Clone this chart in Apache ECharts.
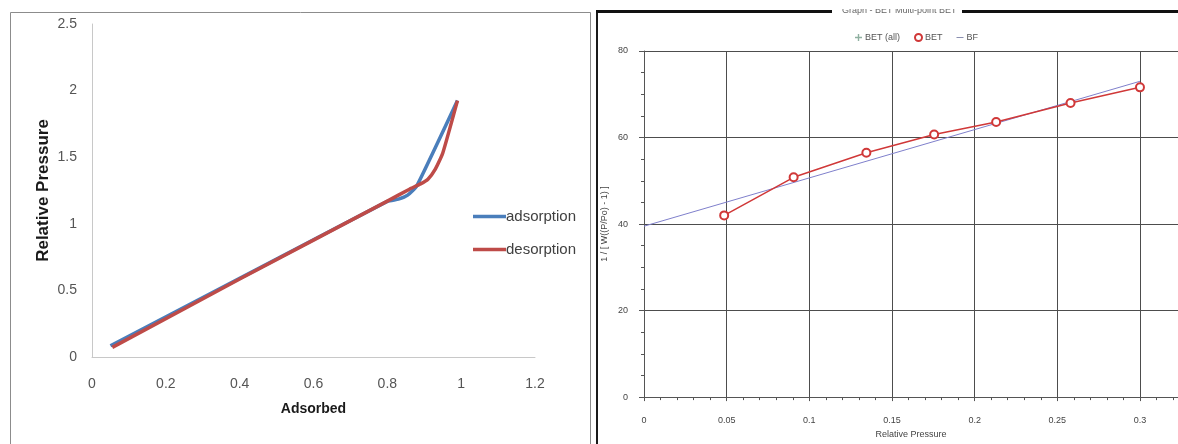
<!DOCTYPE html>
<html>
<head>
<meta charset="utf-8">
<script src="https://cdn.jsdelivr.net/npm/echarts@6/dist/echarts.min.js"></script>
<style>
  html, body { margin: 0; padding: 0; background: #ffffff; }
  #chart { width: 1178px; height: 444px; }
</style>
</head>
<body>
<div id="chart"></div>
<script>
// Isotherm panel: adsorbed amount vs relative pressure
const adsorption = [[0.05, 0.085], [0.4, 0.59], [0.8, 1.168], [0.83, 1.185], [0.855, 1.215], [0.88, 1.285], [0.99, 1.925]];
const desorption = [[0.055, 0.072], [0.4, 0.585], [0.8, 1.17], [0.86, 1.26], [0.89, 1.3], [0.91, 1.335], [0.93, 1.41], [0.95, 1.53], [0.99, 1.925]];

// BET multi-point panel
const betP = [0.0485, 0.0905, 0.1345, 0.1755, 0.213, 0.258, 0.300];
const betY = [42.0, 50.8, 56.5, 60.7, 63.6, 68.0, 71.6];
const bfP = [0, 0.3];
const bfY = [39.5, 73.0];

const leftTicksX = [0, 0.2, 0.4, 0.6, 0.8, 1, 1.2];
const rightTicksX = [0, 0.05, 0.1, 0.15, 0.2, 0.25, 0.3];

const sans = "'Liberation Sans', Arial, sans-serif";

const chart = echarts.init(document.getElementById('chart'), null, { renderer: 'canvas' });

const betData = betP.map((p, i) => [p, betY[i]]);
const bfData = bfP.map((p, i) => [p, bfY[i]]);

const plusIcon = 'path://M4,0 L6,0 L6,4 L10,4 L10,6 L6,6 L6,10 L4,10 L4,6 L0,6 L0,4 L4,4 Z';
const dashIcon = 'path://M0,0 L0.01,0 M0,4.4 L10,4.4 L10,5.6 L0,5.6 Z M10,10 L9.99,10';

const option = {
  backgroundColor: '#ffffff',
  animation: false,
  grid: [
    { left: 92, right: 643, top: 24, bottom: 87 },
    { left: 644, right: 0, top: 51, bottom: 43 }
  ],
  xAxis: [
    {
      gridIndex: 0, type: 'value', min: 0, max: 1.2, interval: 0.2,
      name: 'Adsorbed', nameLocation: 'middle', nameGap: 45,
      nameTextStyle: { fontFamily: sans, fontSize: 14, fontWeight: 'bold', color: '#1a1a1a' },
      axisLine: { show: true, lineStyle: { color: '#c8c8c8', width: 1 } },
      axisTick: { show: false },
      splitLine: { show: false },
      axisLabel: {
        margin: 20, fontFamily: sans, fontSize: 14, color: '#555555',
        formatter: v => leftTicksX.some(t => Math.abs(t - v) < 1e-9) ? String(+v.toFixed(1)) : ''
      }
    },
    {
      gridIndex: 1, type: 'value', min: 0, max: 0.323, interval: 0.05,
      offset: 6,
      name: 'Relative Pressure', nameLocation: 'middle', nameGap: 25,
      nameTextStyle: { fontFamily: sans, fontSize: 9, color: '#444444' },
      axisLine: { show: true, lineStyle: { color: '#555555', width: 1 } },
      axisTick: { show: true, inside: false, length: 4, lineStyle: { color: '#555555' } },
      minorTick: { show: true, splitNumber: 5, length: 3, lineStyle: { color: '#555555' } },
      splitLine: { show: true, lineStyle: { color: '#4d4d4d', width: 1 } },
      axisLabel: {
        margin: 13, fontFamily: sans, fontSize: 9, color: '#444444',
        showMaxLabel: false,
        formatter: v => rightTicksX.some(t => Math.abs(t - v) < 1e-9) ? String(+v.toFixed(2)) : ''
      }
    }
  ],
  yAxis: [
    {
      gridIndex: 0, type: 'value', min: 0, max: 2.5, interval: 0.5,
      name: 'Relative Pressure', nameLocation: 'middle', nameGap: 40,
      nameTextStyle: { fontFamily: sans, fontSize: 17, fontWeight: 'bold', color: '#1a1a1a' },
      axisLine: { show: true, lineStyle: { color: '#c8c8c8', width: 1 } },
      axisTick: { show: false },
      splitLine: { show: false },
      axisLabel: { margin: 15, fontFamily: sans, fontSize: 14, color: '#555555' }
    },
    {
      gridIndex: 1, type: 'value', min: 0, max: 80, interval: 20,
      offset: 7,
      name: '1 / [ W((P/Po) - 1) ]', nameLocation: 'middle', nameGap: 28,
      nameTextStyle: { fontFamily: sans, fontSize: 9, color: '#444444' },
      axisLine: { show: true, lineStyle: { color: '#555555', width: 1 } },
      axisTick: { show: true, inside: false, length: 5, lineStyle: { color: '#555555' } },
      minorTick: { show: true, splitNumber: 4, length: 3, lineStyle: { color: '#555555' } },
      splitLine: { show: true, lineStyle: { color: '#4d4d4d', width: 1 } },
      axisLabel: { margin: 9, fontFamily: sans, fontSize: 9, color: '#444444' }
    }
  ],
  legend: [
    {
      data: [{ name: 'adsorption', icon: 'rect' }, { name: 'desorption', icon: 'rect' }],
      orient: 'vertical', left: 468, top: 204,
      itemWidth: 33, itemHeight: 3.5, itemGap: 18,
      textStyle: { fontFamily: sans, fontSize: 15, color: '#404040', padding: [0, 0, 0, -5] }
    },
    {
      data: [
        { name: 'BET (all)', icon: plusIcon },
        { name: 'BET', icon: 'emptyCircle' },
        { name: 'BF', icon: dashIcon }
      ],
      orient: 'horizontal', left: 850, top: 28,
      itemWidth: 7, itemHeight: 7, itemGap: 14,
      textStyle: { fontFamily: sans, fontSize: 9, color: '#555555', padding: [0, 0, 0, -2] }
    }
  ],
  series: [
    {
      name: 'adsorption', type: 'line', xAxisIndex: 0, yAxisIndex: 0,
      data: adsorption, symbol: 'none', smooth: 0.15,
      lineStyle: { color: '#4a7ebb', width: 3.5, join: 'round' }, itemStyle: { color: '#4a7ebb' }, z: 2
    },
    {
      name: 'desorption', type: 'line', xAxisIndex: 0, yAxisIndex: 0,
      data: desorption, symbol: 'none', smooth: 0.15,
      lineStyle: { color: '#be4b48', width: 3.5, join: 'round' }, itemStyle: { color: '#be4b48' }, z: 3
    },
    {
      name: 'BET (all)', type: 'line', xAxisIndex: 1, yAxisIndex: 1,
      data: [], symbol: plusIcon,
      lineStyle: { color: '#8fb0a0', width: 0 }, itemStyle: { color: '#8fb0a0' }
    },
    {
      name: 'BET', type: 'line', xAxisIndex: 1, yAxisIndex: 1,
      data: betData, symbol: 'emptyCircle', symbolSize: 8,
      lineStyle: { color: '#d03838', width: 1.5 },
      itemStyle: { color: '#d03838', borderColor: '#d03838', borderWidth: 1.2 }, z: 4
    },
    {
      name: 'BF', type: 'line', xAxisIndex: 1, yAxisIndex: 1,
      data: bfData, symbol: 'none',
      lineStyle: { color: '#7f80cc', width: 1 }, itemStyle: { color: '#8a8fb0' }, z: 3
    }
  ],
  graphic: [
    // frame around the isotherm panel
    { type: 'rect', shape: { x: 10.5, y: 12.5, width: 580, height: 460 },
      style: { fill: 'none', stroke: '#8c8c8c', lineWidth: 1 }, z: 1, silent: true },
    // BET panel border and header
    { type: 'rect', shape: { x: 596, y: 10, width: 2, height: 440 },
      style: { fill: '#1a1a1a' }, z: 1, silent: true },
    { type: 'rect', shape: { x: 596, y: 10, width: 236, height: 3 },
      style: { fill: '#111111' }, z: 1, silent: true },
    { type: 'rect', shape: { x: 962, y: 10, width: 216, height: 3 },
      style: { fill: '#111111' }, z: 1, silent: true },
    { type: 'text', left: 842, top: 6, z: 1, silent: true,
      style: { text: 'Graph - BET Multi-point BET', fontFamily: sans, fontSize: 9, fill: '#666666' } },
    { type: 'rect', shape: { x: 830, y: 0, width: 140, height: 9 },
      style: { fill: '#ffffff' }, z: 2, silent: true }
  ]
};

chart.setOption(option);
</script>
</body>
</html>
